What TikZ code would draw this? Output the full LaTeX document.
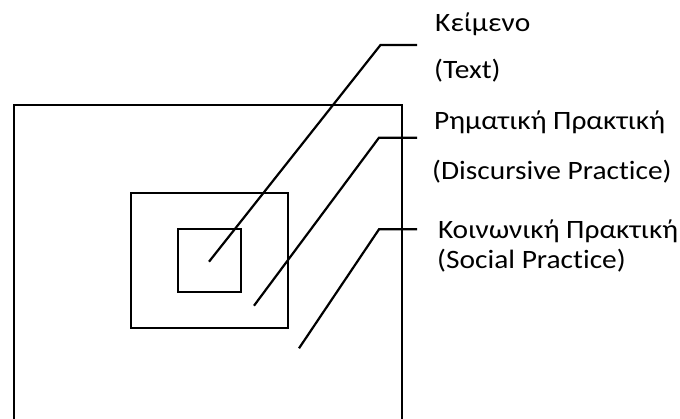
\documentclass[tikz,border=0pt]{standalone}
\usepackage{fontspec}
\usepackage{graphicx}
\setmainfont{Carlito}[Ligatures={NoCommon}]
\newcommand{\lblstretch}[1]{\scalebox{1.11}[1]{#1}}
\begin{document}
\begin{tikzpicture}[x=1pt,y=1pt,
  frame/.style={draw=black, line width=2.3pt, line join=miter},
  leader/.style={draw=black, line width=2.2pt},
  lbl/.style={anchor=base west, inner sep=0pt, font=\fontsize{26.5}{30}\selectfont}]
\useasboundingbox[fill=white] (0,0) rectangle (680,418);
% boxes
\draw[frame] (14,-2) -- (14,313.3) -- (402,313.3) -- (402,-2);
\node[frame, minimum width=156.7pt, minimum height=134.7pt, inner sep=0pt, anchor=south west] (mid) at (130,89) {};
\node[frame, minimum width=63.3pt, minimum height=62.7pt, inner sep=0pt, anchor=south west] (inn) at (176.7,125) {};
% leader coordinates
\coordinate (t0) at (209,156.3);
\coordinate (t1) at (380.5,373);
\coordinate (t2) at (417,373);
\coordinate (d0) at (254,112.3);
\coordinate (d1) at (379,280.3);
\coordinate (d2) at (417,280.3);
\coordinate (s0) at (299,69.7);
\coordinate (s1) at (379,188.7);
\coordinate (s2) at (417,188.7);
\draw[leader] (t0) -- (t1) -- (t2);
\draw[leader] (d0) -- (d1) -- (d2);
\draw[leader] (s0) -- (s1) -- (s2);
% labels
\node[lbl] (tg) at (435,386.3) {\lblstretch{Κείμενο}};
\node[lbl] (te) at (434,339.3) {\lblstretch{(Text)}};
\node[lbl] (dg) at (434,288) {\lblstretch{Ρηματική Πρακτική}};
\node[lbl] (de) at (432,238) {\lblstretch{(Discursive Practice)}};
\node[lbl] (sg) at (438,179) {\lblstretch{Κοινωνική Πρακτική}};
\node[lbl] (se) at (437,149.7) {\lblstretch{(Social Practice)}};
\end{tikzpicture}
\end{document}
